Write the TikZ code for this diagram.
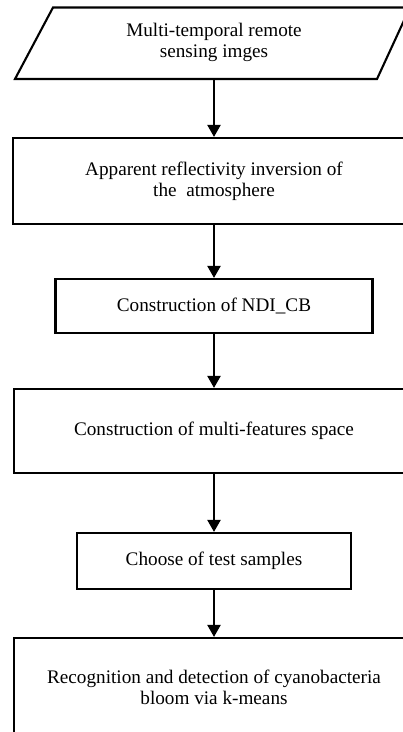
\documentclass[tikz,border=0pt]{standalone}
\usepackage{fontspec}
\setmainfont{Liberation Serif}
\usetikzlibrary{arrows.meta}
\begin{document}
\begin{tikzpicture}[x=1pt,y=-1pt,
  every node/.style={font=\fontsize{19.2}{21}\selectfont, align=center, inner sep=0pt},
  stepbox/.style={draw, line width=2.1pt, minimum width=#1},
  conn/.style={line width=2.1pt, -{Triangle[length=12pt,width=13pt]}},
  outline/.style={line width=2.1pt, line join=miter}]
\clip (0,0) rectangle (403,732);
% input parallelogram
\coordinate (p1bl) at (15,79);
\coordinate (p1tl) at (53,7.5);
\coordinate (p1tr) at (410,7.5);
\coordinate (p1br) at (377,79);
\coordinate (p1b) at (214,79);
\draw[outline] (p1bl) -- (p1tl) -- (p1tr) -- (p1br) -- cycle;
\node (n1) at (214,42) {Multi-temporal remote\\sensing imges};
% boxes
\node[stepbox=402pt, minimum height=86pt] (n2) at (214,181) {Apparent reflectivity inversion of\\the\ \ atmosphere};
\node[stepbox=317pt, minimum height=54pt] (n3) at (214,306) {Construction of NDI\_CB};
\node[stepbox=400pt, minimum height=84pt] (n4) at (214,431) {Construction of multi-features space};
\node[stepbox=274pt, minimum height=56pt] (n5) at (214,561) {Choose of test samples};
\node[stepbox=400pt, minimum height=98pt] (n6) at (214,687) {Recognition and detection of cyanobacteria\\bloom via k-means};
% connectors
\draw[conn] (p1b) -- (n2.north);
\draw[conn] (n2.south) -- (n3.north);
\draw[conn] (n3.south) -- (n4.north);
\draw[conn] (n4.south) -- (n5.north);
\draw[conn] (n5.south) -- (n6.north);
\end{tikzpicture}
\end{document}
